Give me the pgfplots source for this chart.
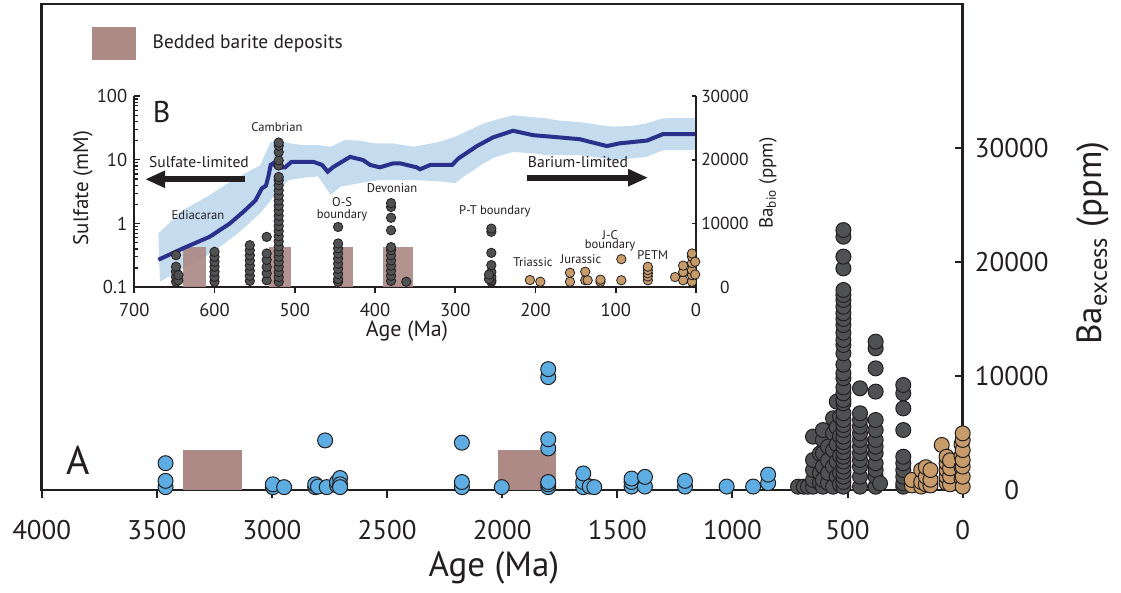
\documentclass[border=0pt]{standalone}
\usepackage{pgfplots}
\pgfplotsset{compat=1.18}
\usepackage{fontspec}
\setmainfont{PT Sans}
\usetikzlibrary{arrows.meta}
\definecolor{barite}{RGB}{173,138,134}
\definecolor{bluept}{RGB}{93,173,226}
\definecolor{graypt}{RGB}{80,81,83}
\definecolor{tanpt}{RGB}{200,156,106}
\definecolor{bandc}{RGB}{197,219,238}
\definecolor{curvec}{RGB}{43,48,140}
\definecolor{outl}{RGB}{35,31,32}
\newcommand{\fs}[1]{\fontsize{#1}{#1}\selectfont}
\begin{document}
\begin{tikzpicture}
\path[use as bounding box] (0,0) rectangle (560.5pt,296.5pt);
% ================= MAIN AXIS (A) =================
\begin{axis}[
  at={(20.85pt,51.5pt)}, anchor=south west,
  scale only axis, width=460.5pt, height=243pt,
  xmin=0, xmax=4000, x dir=reverse,
  ymin=0, ymax=42632,
  clip=false,
  axis line style={outl, line width=1.2pt},
  xtick={0,500,...,4000},
  ytick={0,10000,20000,30000},
  xtick pos=bottom, ytick pos=right, yticklabel pos=right,
  xtick align=outside, ytick align=inside,
  major tick length=4pt,
  tick style={outl, line width=1pt},
  /pgf/number format/1000 sep={},
  /pgf/number format/assume math mode=true,
  scaled y ticks=false, scaled x ticks=false,
  ticklabel style={font=\fs{13.5}, text=outl},
  xticklabel style={anchor=center, yshift=-15.8pt},
  yticklabel style={anchor=center, xshift=24.5pt},
  xlabel={Age (Ma)},
  xlabel style={at={(axis description cs:0.491,-0.160)}, anchor=center, font=\fs{17.5}, text=outl},
  ylabel={Ba$_{\mathrm{excess}}$ (ppm)},
  ylabel style={at={(axis description cs:1.1415,0.508)}, anchor=center, font=\fs{17.5}, text=outl},
  legend style={at={(axis description cs:0.0543,0.919)}, anchor=west, draw=none, fill=none,
     inner sep=0pt, outer sep=0pt, font=\fs{9.7}, text=outl,
     nodes={inner sep=0pt},
     /tikz/every odd column/.append style={column sep=8.5pt}},
  legend image code/.code={\fill[barite] (0pt,-8.25pt) rectangle (22pt,8.25pt);},
  mark size=3.75pt,
]
\addplot[fill=barite, draw=none] coordinates {(3385,0) (3130,0) (3130,3550) (3385,3550)} -- cycle;
\addlegendentry{Bedded barite deposits}
\addplot[fill=barite, draw=none, forget plot] coordinates {(2020,0) (1765,0) (1765,3550) (2020,3550)} -- cycle;
% blue: Precambrian
\addplot[only marks, mark=*, mark options={fill=bluept, draw=outl, line width=0.5pt}, forget plot] coordinates {
(3462,250) (3462,800) (3462,2350)
(2996,250) (2996,500) (2947,250)
(2812,250) (2812,500) (2800,300) (2762,250) (2769,4350) (2717,400) (2717,700) (2704,1050) (2704,500) (2704,250)
(2175,250) (2175,700) (2175,4150)
(2002,250)
(1800,250) (1800,500) (1800,700) (1800,3650) (1800,4450) (1800,9900) (1800,10600)
(1648,250) (1648,700) (1648,1450) (1620,300) (1600,250)
(1438,300) (1438,700) (1438,1000) (1380,300) (1380,1150)
(1206,300) (1206,800)
(1025,300) (910,300)
(845,600) (845,1350)
};
% gray: Neoproterozoic-Paleozoic
\addplot[only marks, mark=*, mark options={fill=graypt, draw=outl, line width=0.5pt}, forget plot] coordinates {
(715,290) (690,290) (672,290)
(650,290) (650,880) (650,1750) (650,2630) (650,4680)
(620,600) (620,1500) (620,3200)
(607,290) (607,880) (607,2050) (607,3220) (607,4390) (607,5260)
(585,600) (585,1500) (585,2600) (585,3800)
(563,290) (563,2050) (563,3500) (563,4970) (563,6290)
(547,1200) (547,2500) (547,4000) (547,5500) (547,7750)
(533,500) (533,1500) (533,3000) (533,4700) (533,6430)
(518,290) (518,700) (518,1170) (518,1600) (518,2050) (518,2500) (518,2920) (518,3300) (518,3800) (518,4200) (518,4680) (518,5260) (518,5700) (518,6140) (518,6730) (518,7600) (518,7890) (518,8480) (518,9000) (518,9800) (518,10230) (518,11000) (518,11990) (518,12720) (518,13160) (518,13800) (518,14470) (518,15000) (518,15500) (518,16080) (518,16670) (518,17100) (518,17540) (518,19440) (518,20470) (518,22220) (518,22800)
(446,290) (446,1170) (446,2050) (446,2630) (446,3220) (446,3800) (446,4390) (446,4970) (446,5560) (446,6140) (446,6730) (446,8920)
(378,290) (378,1170) (378,1750) (378,2340) (378,3220) (378,3800) (378,4390) (378,5260) (378,6140) (378,8630) (378,10670) (378,12430) (378,13010)
(359,580)
(258,290) (258,580) (258,1170) (258,1750) (258,2340) (258,2920) (258,5260) (258,7160) (258,8480) (258,9210)
};
% tan: Mesozoic-Cenozoic
\addplot[only marks, mark=*, mark options={fill=tanpt, draw=outl, line width=0.5pt}, forget plot] coordinates {
(221,400) (221,880)
(180,300) (180,700) (180,1750)
(160,500) (160,1170) (160,2000)
(140,400) (140,900) (140,1750)
(91,3950)
(70,600) (70,1170) (70,1750) (70,2340) (70,2920)
(55,500) (55,1200) (55,1900) (55,2600)
(5,1000) (5,2000) (5,3000) (5,4000)
(0,290) (0,1170) (0,2050) (0,2630) (0,3500) (0,4390) (0,4970)
};
\node[font=\fs{20}, text=outl] at (axis description cs:0.0394,0.0617) {A};
\end{axis}
% ================= INSET (B), left log axis =================
\begin{axis}[
  at={(67.15pt,152.85pt)}, anchor=south west,
  scale only axis, width=280.85pt, height=95.65pt,
  xmin=0, xmax=700, x dir=reverse,
  ymode=log, ymin=0.1, ymax=100,
  clip=false,
  axis x line*=bottom, axis y line*=left,
  axis line style={outl, line width=1pt},
  xtick={0,100,...,700},
  ytick={0.1,1,10,100}, yticklabels={0.1,1,10,100},
  minor ytick={0.2,0.3,0.4,0.5,0.6,0.7,0.8,0.9,2,3,4,5,6,7,8,9,20,30,40,50,60,70,80,90},
  xtick align=outside, ytick align=inside,
  x tick style={outl, line width=0.8pt},
  y tick style={outl, line width=0.6pt},
  major tick length=2.8pt, minor tick length=1.7pt,
  /pgf/number format/1000 sep={},
  /pgf/number format/assume math mode=true,
  ticklabel style={font=\fs{9.3}, text=outl},
  xticklabel style={anchor=center, yshift=-8.6pt},
  xlabel={Age (Ma)},
  xlabel style={at={(axis description cs:0.4855,-0.228)}, anchor=center, font=\fs{11}, text=outl},
  ylabel={Sulfate (mM)},
  ylabel style={at={(axis description cs:-0.0913,0.519)}, anchor=center, font=\fs{10.5}, text=outl},
]
% uncertainty band
\addplot[fill=bandc, draw=none] coordinates {
(670,0.70) (640,1.6) (610,2.6) (577,4.8) (543,8.2) (530,19) (520,20) (505,18) (490,17) (470,17) (455,16) (438,20.4) (420,20) (400,18) (377,18) (352,16) (320,19) (300,23) (280,30) (265,37) (250,42) (228,50) (200,46) (187,44.7) (170,41) (145,39) (120,35) (103,33) (80,34) (62,37) (41,44.7) (20,45) (0,44.7)
(0,14.1) (20,14.1) (41,14.1) (62,11.1) (80,10.5) (103,9.9) (120,10.8) (145,11.8) (170,11.8) (187,11.8) (200,12.5) (228,13.3) (250,11) (265,8.8) (280,6.5) (290,5.4) (300,4.3) (320,4.6) (352,4.8) (376,4.8) (394,4.8) (410,4.5) (443,3.8) (455,2.8) (471,5.5) (490,5.2) (508,4.8) (523,2.97) (530,2.3) (543,1.45) (571,0.7) (604,0.34) (639,0.2) (668,0.122)
} -- cycle;
% barite rectangles
\addplot[fill=barite, draw=none, fill opacity=0.92] coordinates {(639,0.1) (611,0.1) (611,0.43) (639,0.43)} -- cycle;
\addplot[fill=barite, draw=none, fill opacity=0.92] coordinates {(532,0.1) (505,0.1) (505,0.43) (532,0.43)} -- cycle;
\addplot[fill=barite, draw=none, fill opacity=0.92] coordinates {(449,0.1) (428,0.1) (428,0.43) (449,0.43)} -- cycle;
\addplot[fill=barite, draw=none, fill opacity=0.92] coordinates {(390,0.1) (353,0.1) (353,0.43) (390,0.43)} -- cycle;
% sulfate curve
\addplot[curvec, line width=2pt] coordinates {
(670,0.27) (639,0.41) (606,0.62) (581,1.0) (564,1.53) (549,2.3) (541,3.56) (536,3.9) (533,5.4) (530,8.3) (527,8.8) (523,7.6) (512,7.6) (504,9.3) (477,9.3) (466,8.3) (459,6.5) (452,7.7) (431,11.1) (415,9.9) (406,8.3) (394,7.6) (377,8.8) (369,8.8) (348,7.6) (344,7.1) (331,8.3) (304,8.3) (296,10.5) (273,16.4) (253,22.4) (228,28.5) (203,24.3) (170,22.4) (145,21) (111,16.4) (95,18.1) (61,20) (41,25.3) (1,25.3)
};
\node[font=\fs{15}, text=outl] at (axis description cs:0.0488,0.918) {B};
\node[font=\fs{6.3}, text=outl] at (axis description cs:0.1134,0.378) {Ediacaran};
\node[font=\fs{6.3}, text=outl] at (axis description cs:0.254,0.8395) {Cambrian};
\node[font=\fs{6.3}, text=outl, align=center, inner sep=0pt] at (axis description cs:0.370,0.4056) {O-S\\[-0.4pt]boundary};
\node[font=\fs{6.3}, text=outl] at (axis description cs:0.459,0.5175) {Devonian};
\node[font=\fs{6.3}, text=outl] at (axis description cs:0.642,0.395) {P-T boundary};
\node[font=\fs{6.3}, text=outl] at (axis description cs:0.7098,0.134) {Triassic};
\node[font=\fs{6.3}, text=outl] at (axis description cs:0.7952,0.148) {Jurassic};
\node[font=\fs{6.3}, text=outl, align=center, inner sep=0pt] at (axis description cs:0.847,0.242) {J-C\\[-1.5pt]boundary};
\node[font=\fs{6.3}, text=outl] at (axis description cs:0.9229,0.169) {PETM};
\node[font=\fs{7.8}, text=outl] at (axis description cs:0.1152,0.6566) {Sulfate-limited};
\node[font=\fs{7.8}, text=outl] at (axis description cs:0.790,0.6566) {Barium-limited};
\draw[outl, line width=3pt, -{Triangle[length=10pt,width=8pt]}] (axis description cs:0.1971,0.5646) -- (axis description cs:0.0191,0.5646);
\draw[outl, line width=3pt, -{Triangle[length=10pt,width=8pt]}] (axis description cs:0.6986,0.5729) -- (axis description cs:0.915,0.5729);
\end{axis}
% ================= INSET (B), right linear axis =================
\begin{axis}[
  at={(67.15pt,152.85pt)}, anchor=south west,
  scale only axis, width=280.85pt, height=95.65pt,
  xmin=0, xmax=700, x dir=reverse,
  ymin=0, ymax=30000,
  clip=false,
  axis x line=none, axis y line*=right,
  axis line style={outl, line width=1pt},
  ytick={0,10000,20000,30000},
  ytick align=inside,
  major tick length=2.2pt,
  tick style={outl, line width=0.8pt},
  /pgf/number format/1000 sep={},
  /pgf/number format/assume math mode=true,
  scaled y ticks=false,
  ticklabel style={font=\fs{8.7}, text=outl},
  yticklabel style={anchor=center, xshift=14.5pt},
  ylabel={Ba$_{\mathrm{bio}}$ (ppm)},
  ylabel style={at={(axis description cs:1.128,0.545)}, anchor=center, font=\fs{9.5}, text=outl},
  mark size=2.35pt,
]
\addplot[only marks, mark=*, mark options={fill=graypt, draw=outl, line width=0.4pt}] coordinates {
(648,870) (648,1650) (648,2440) (648,3220) (648,5040) (645,1100) (645,1900)
(600,870) (600,1650) (600,2440) (600,3220) (600,4000) (600,4780) (600,5560)
(556,1000) (556,1800) (556,2600) (556,3400) (556,4200) (556,5000) (556,5800) (556,6600)
(535,1100) (535,2200) (535,3200) (535,4300) (535,5300) (535,7900)
(520,870) (520,1600) (520,2400) (520,3200) (520,4000) (520,4800) (520,5600) (520,6400) (520,7200) (520,8000) (520,8800) (520,9600) (520,10400) (520,11200) (520,12000) (520,12800) (520,13600) (520,14400) (520,15200) (520,16000) (520,16800) (520,17300) (520,19100) (520,19900) (520,21200) (520,22200) (520,22700)
(446,870) (446,1300) (446,2100) (446,2900) (446,3700) (446,4500) (446,5300) (446,6100) (446,6870) (446,9460)
(380,1000) (380,1800) (380,2600) (380,3400) (380,4200) (380,5000) (380,5800) (380,6300) (380,8940) (380,10900) (380,12600) (380,13200)
(361,870)
(255,870) (255,1100) (255,1600) (255,2400) (255,3480) (255,5400) (255,8700) (255,9200) (258,1300) (258,2000)
};
\addplot[only marks, mark=*, mark options={fill=tanpt, draw=outl, line width=0.4pt}] coordinates {
(207,1140) (194,870)
(157,870) (157,2280) (138,1100) (138,2440) (135,1100) (119,870) (119,1200)
(93,1100) (93,4410)
(60,1100) (60,1700) (60,2200) (60,2700) (60,3220)
(26,1600) (16,1100) (16,2400) (16,3400)
(5,870) (5,1900) (5,2700) (5,3800) (5,4800) (5,5300) (1,2000) (1,4000)
};
\end{axis}
\end{tikzpicture}
\end{document}
